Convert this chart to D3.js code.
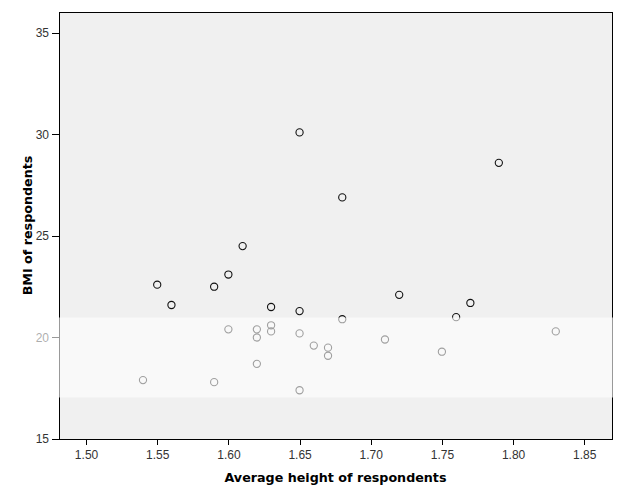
<!DOCTYPE html>
<meta charset="utf-8">
<style>
body { margin: 0; background: #fff; }
.axis text { font: 12px "Liberation Sans", Arial, sans-serif; fill: #333; }
.axis path, .axis line { stroke: #000; shape-rendering: crispEdges; }
.title { font: bold 12.7px "DejaVu Sans", Verdana, sans-serif; fill: #000; }
</style>
<svg width="640" height="500"></svg>
<script src="https://cdn.jsdelivr.net/npm/d3@7"></script>
<script>

// height (m) and BMI per respondent
var heights = [1.54, 1.55, 1.56, 1.59, 1.59, 1.60, 1.60, 1.61, 1.62, 1.62,
               1.62, 1.63, 1.63, 1.63, 1.65, 1.65, 1.65, 1.65, 1.66, 1.67,
               1.67, 1.68, 1.68, 1.71, 1.72, 1.75, 1.76, 1.77, 1.79, 1.83];
var bmis = [17.9, 22.6, 21.6, 17.8, 22.5, 20.4, 23.1, 24.5, 20.4, 20.0,
            18.7, 21.5, 20.6, 20.3, 30.1, 21.3, 20.2, 17.4, 19.6, 19.5,
            19.1, 26.9, 20.9, 19.9, 22.1, 19.3, 21.0, 21.7, 28.6, 20.3];
var xTicks = [1.50, 1.55, 1.60, 1.65, 1.70, 1.75, 1.80, 1.85];
var yTicks = [15, 20, 25, 30, 35];

var svg = d3.select("svg"),
  margin = {top: 12, right: 28, bottom: 61, left: 59},
  width = 640 - margin.left - margin.right,
  height = 500 - margin.top - margin.bottom;

var x = d3.scaleLinear().domain([1.481, 1.8695]).range([0, width]),
    y = d3.scaleLinear().domain([15, 36.03]).range([height, 0]);

var g = svg.append("g")
  .attr("transform", "translate(" + margin.left + "," + margin.top + ")");

g.append("rect")
  .attr("width", width)
  .attr("height", height)
  .attr("fill", "#f0f0f0")
  .attr("stroke", "#000")
  .attr("shape-rendering", "crispEdges");

g.append("g")
  .attr("class", "axis")
  .attr("transform", "translate(0," + height + ")")
  .call(d3.axisBottom(x).tickValues(xTicks).tickSize(6).tickPadding(5)
    .tickFormat(d3.format(".2f")))
  .call(function(a) { a.select(".domain").remove(); });

g.append("g")
  .attr("class", "axis")
  .call(d3.axisLeft(y).tickValues(yTicks).tickSize(7).tickPadding(3))
  .call(function(a) { a.select(".domain").remove(); });

var pts = heights.map(function(h, i) { return {h: h, bmi: bmis[i]}; });

g.append("g")
  .selectAll("circle")
  .data(pts)
  .enter().append("circle")
    .attr("cx", function(d) { return x(d.h); })
    .attr("cy", function(d) { return y(d.bmi); })
    .attr("r", 3.6)
    .attr("fill", "none")
    .attr("stroke", "#111")
    .attr("stroke-width", 1.1);

svg.append("text")
  .attr("class", "title")
  .attr("x", margin.left + width / 2)
  .attr("y", 482)
  .attr("text-anchor", "middle")
  .text("Average height of respondents");

svg.append("text")
  .attr("class", "title")
  .attr("transform", "translate(32," + (margin.top + height / 2) + ") rotate(-90)")
  .attr("text-anchor", "middle")
  .text("BMI of respondents");

// pale strip across the image (overlay on the original picture)
svg.append("rect")
  .attr("x", 0)
  .attr("y", 317.5)
  .attr("width", 640)
  .attr("height", 80)
  .attr("fill", "#fff")
  .attr("opacity", 0.6);

</script>
